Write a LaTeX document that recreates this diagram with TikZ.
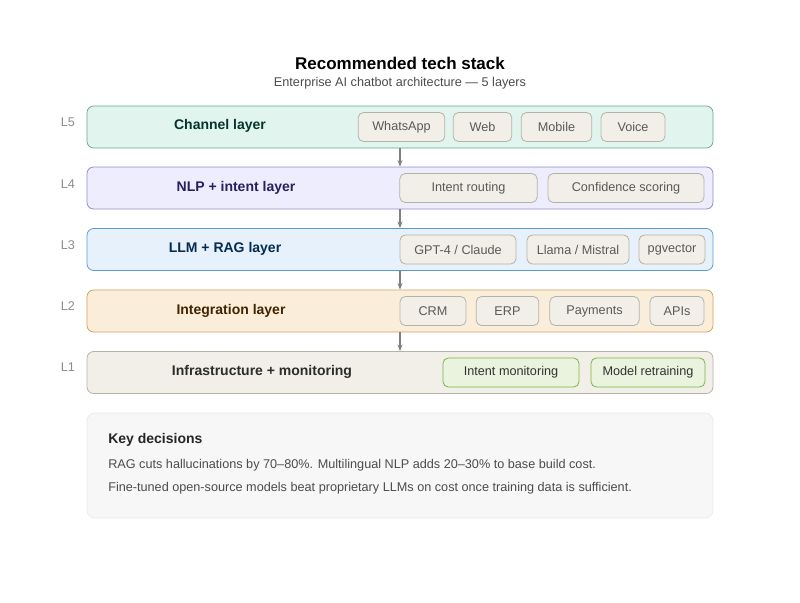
\documentclass[tikz,border=0pt]{standalone}
\usepackage{fontspec}
\setmainfont{Liberation Sans}
\usetikzlibrary{arrows.meta}
\definecolor{chipfill}{HTML}{F1EFE8}
\definecolor{chipline}{HTML}{B4B2A9}
\definecolor{greenfill}{HTML}{EAF3DE}
\definecolor{greenline}{HTML}{7AB648}
\definecolor{tealline}{HTML}{5DAE8B}
\definecolor{tealfill}{HTML}{E1F5EE}
\definecolor{purpleline}{HTML}{8F87D8}
\definecolor{purplefill}{HTML}{EEEDFE}
\definecolor{blueline}{HTML}{5B9BD5}
\definecolor{bluefill}{HTML}{E6F1FB}
\definecolor{amberline}{HTML}{D7A05A}
\definecolor{amberfill}{HTML}{FAEEDA}
\tikzset{
	layer/.style={draw=#1, rounded corners=5pt, minimum width=469.5pt, minimum height=31.5pt, line width=0.6pt},
	chip/.style={draw=chipline, fill=chipfill, rounded corners=4pt, minimum height=21.75pt, text=black!65, font=\fontsize{9.5}{11}\selectfont, line width=0.6pt},
	gchip/.style={chip, draw=greenline, fill=greenfill, text=black!80},
	ltitle/.style={font=\bfseries\fontsize{10.5}{12}\selectfont},
	lnum/.style={text=black!45, font=\fontsize{9.5}{11}\selectfont},
	arr/.style={-{Stealth[length=5pt]}, gray, line width=0.8pt}
}
\begin{document}
\begin{tikzpicture}[x=0.75pt,y=-0.75pt]
	\useasboundingbox (0,0) rectangle (800,603);
	\node (title) at (400,63) {\bfseries\fontsize{12.75}{14}\selectfont Recommended tech stack};
	\node (sub) at (400,83) [text=black!70, font=\fontsize{9.5}{11}\selectfont] {Enterprise AI chatbot architecture --- 5 layers};

	% layers
	\node (L5) at (400,127) [layer=tealline, fill=tealfill] {};
	\node (L4) at (400,188) [layer=purpleline, fill=purplefill] {};
	\node (L3) at (400,249.5) [layer=blueline, fill=bluefill] {};
	\node (L2) at (400,311) [layer=amberline, fill=amberfill] {};
	\node (L1) at (400,372.5) [layer=chipline, fill=chipfill] {};

	\node (n5) at (68,122) [lnum] {L5};
	\node (n4) at (68,184) [lnum] {L4};
	\node (n3) at (68,245) [lnum] {L3};
	\node (n2) at (68,306) [lnum] {L2};
	\node (n1) at (68,367) [lnum] {L1};

	\node (t5) at (220,126) [ltitle, text={rgb,255:red,4;green,52;blue,44}] {Channel layer};
	\node (t4) at (236,188) [ltitle, text={rgb,255:red,38;green,33;blue,92}] {NLP + intent layer};
	\node (t3) at (225,249) [ltitle, text={rgb,255:red,4;green,44;blue,83}] {LLM + RAG layer};
	\node (t2) at (231,311) [ltitle, text={rgb,255:red,65;green,36;blue,2}] {Integration layer};
	\node (t1) at (262,372) [ltitle, text={rgb,255:red,44;green,44;blue,42}] {Infrastructure + monitoring};

	% chips
	\node (whatsapp) at (401.5,127) [chip, minimum width=65pt] {WhatsApp};
	\node (web) at (482.5,127) [chip, minimum width=44pt] {Web};
	\node (mobile) at (556.5,127) [chip, minimum width=53pt] {Mobile};
	\node (voice) at (633,127) [chip, minimum width=48pt] {Voice};

	\node (routing) at (468.5,188) [chip, minimum width=103pt] {Intent routing};
	\node (scoring) at (626,188) [chip, minimum width=117pt] {Confidence scoring};

	\node (gpt) at (458,249.5) [chip, minimum width=87pt] {GPT-4 / Claude};
	\node (llama) at (578,249.5) [chip, minimum width=76.5pt] {Llama / Mistral};
	\node (pgv) at (672,249.5) [chip, minimum width=49.5pt] {pgvector};

	\node (crm) at (433,311) [chip, minimum width=49.5pt] {CRM};
	\node (erp) at (507.5,311) [chip, minimum width=47pt] {ERP};
	\node (pay) at (594.5,311) [chip, minimum width=67pt] {Payments};
	\node (apis) at (677,311) [chip, minimum width=40.5pt] {APIs};

	\node (imon) at (511,372.5) [gchip, minimum width=102pt] {Intent monitoring};
	\node (retrain) at (648,372.5) [gchip, minimum width=85.5pt] {Model retraining};

	% connectors
	\coordinate (ax) at (400,0);
	\draw[arr] (L5.south -| ax) -- (L4.north -| ax);
	\draw[arr] (L4.south -| ax) -- (L3.north -| ax);
	\draw[arr] (L3.south -| ax) -- (L2.north -| ax);
	\draw[arr] (L2.south -| ax) -- (L1.north -| ax);

	% key decisions
	\node (key) at (400,465.5) [draw=black!8, fill=black!3, rounded corners=6pt, minimum width=469.5pt, minimum height=78.75pt, line width=0.6pt] {};
	\node (keyt) at (108,440) [anchor=west, inner sep=0pt, font=\bfseries\fontsize{10.5}{12}\selectfont, text=black!85] {Key decisions};
	\node (k1) at (108,465) [anchor=west, inner sep=0pt, text=black!70, font=\fontsize{9.5}{11}\selectfont] {RAG cuts hallucinations by 70--80\%. Multilingual NLP adds 20--30\% to base build cost.};
	\node (k2) at (108,488) [anchor=west, inner sep=0pt, text=black!70, font=\fontsize{9.5}{11}\selectfont] {Fine-tuned open-source models beat proprietary LLMs on cost once training data is sufficient.};
\end{tikzpicture}
\end{document}
